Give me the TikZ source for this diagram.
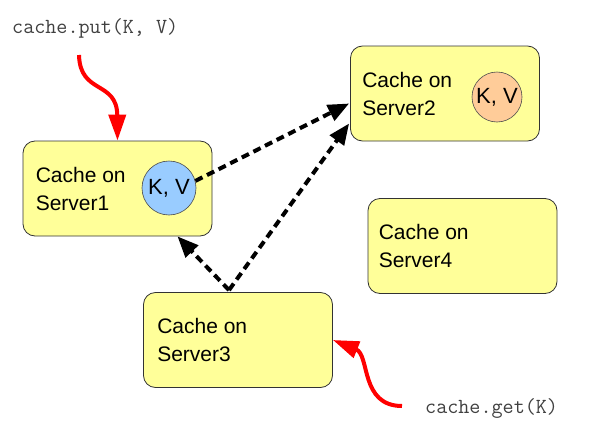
\documentclass[tikz,border=0pt]{standalone}
\usepackage{fontspec}
\setmainfont{Liberation Sans}
\usetikzlibrary{arrows.meta,calc}
\definecolor{boxyellow}{HTML}{FFFF99}
\definecolor{kvblue}{HTML}{99CCFF}
\definecolor{kvpeach}{HTML}{FFCC99}
\begin{document}
\begin{tikzpicture}[x=1pt,y=-1pt,
  cachebox/.style={draw=black!80, line width=0.8pt, fill=boxyellow, rounded corners=12pt,
    minimum width=189pt, minimum height=95pt, inner sep=0pt},
  boxtext/.style={anchor=west, align=left, inner sep=0pt, font=\fontsize{21}{28}\selectfont},
  kvcircle/.style={circle, draw=black!70, line width=0.6pt, inner sep=0pt,
    font=\fontsize{22}{26}\selectfont},
  codetext/.style={anchor=base west, inner sep=0pt, text=black!75,
    font=\ttfamily\fontsize{21.5}{24}\selectfont},
  redarrow/.style={draw=red, line width=4pt, -{Triangle[length=26pt,width=17pt]}},
  dasharrow/.style={draw=black, line width=4pt, dash pattern=on 8pt off 5pt,
    -{Triangle[length=21pt,width=17pt]}}
]
\useasboundingbox (0,0) rectangle (598,442);

% boxes
\node[cachebox] (s1) at (117.5,188.5) {};
\node[cachebox] (s2) at (445,93.5) {};
\node[cachebox] (s4) at (462.5,246) {};
\node[cachebox] (s3) at (238,340) {};

% box texts
\node[boxtext] (t1) at ($(s1.west)+(13,0)$) {Cache on\\Server1};
\node[boxtext] (t2) at ($(s2.west)+(12,0)$) {Cache on\\Server2};
\node[boxtext] (t4) at ($(s4.west)+(11,0)$) {Cache on\\Server4};
\node[boxtext] (t3) at ($(s3.west)+(14,0)$) {Cache on\\Server3};

% key/value circles
\node[kvcircle, fill=kvblue, minimum size=54pt] (kv1) at (169,188) {K, V};
\node[kvcircle, fill=kvpeach, minimum size=50pt] (kv2) at (497,97) {K, V};

% code labels
\node[codetext] (put) at (12,33) {cache.put(K, V)};
\node[codetext] (get) at (425,413) {cache.get(K)};

% red request arrows
\coordinate (putstart) at ($(put.base west)+(67,22)$);
\coordinate (getstart) at ($(get.base west)+(-23,-7)$);
\draw[redarrow] (putstart) .. controls (80,95) and (117,80) .. (s1.north);
\draw[redarrow] (getstart) .. controls (360,406) and (370,355) .. (s3.east);

% dashed replication / lookup arrows
\coordinate (s3top) at ($(s3.north)+(-9,-2)$);
\draw[dasharrow] (kv1.15) -- ($(s2.west)+(-1,10)$);
\draw[dasharrow] (s3top) -- ($(s2.west)+(-1,30)$);
\draw[dasharrow] (s3top) -- ($(s1.south)+(60,0)$);
\end{tikzpicture}
\end{document}
